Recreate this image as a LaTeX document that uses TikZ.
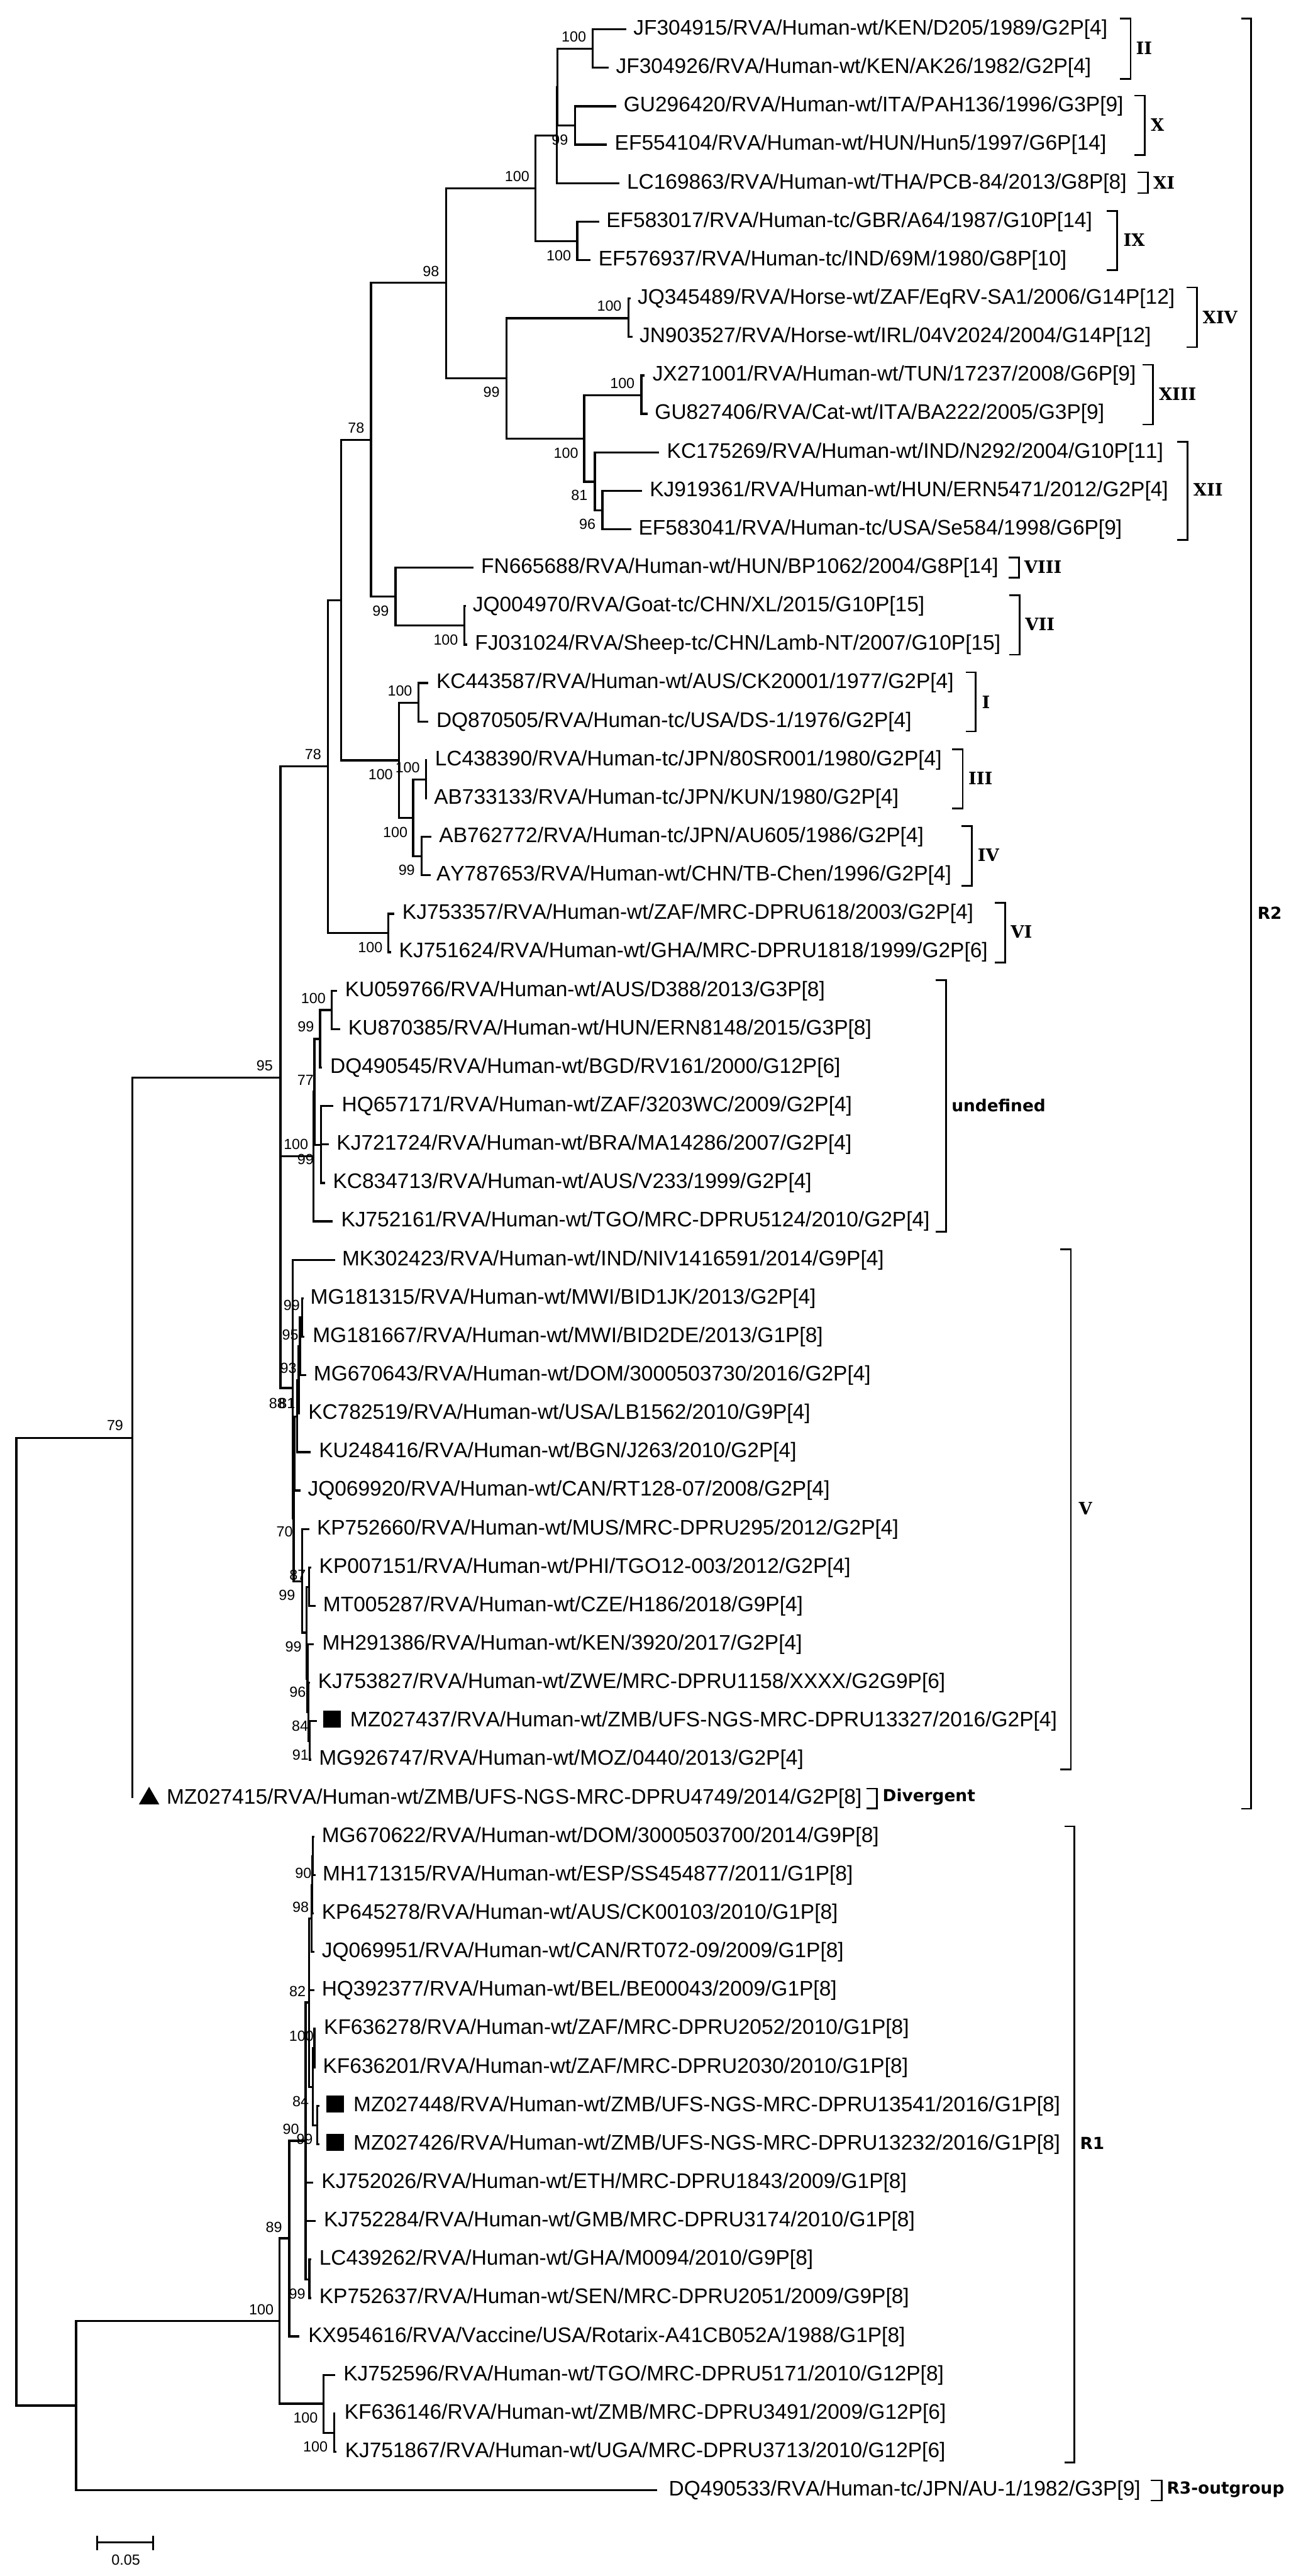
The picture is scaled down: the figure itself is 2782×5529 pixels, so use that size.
\documentclass[tikz,border=0pt]{standalone}
\usepackage{fontspec}
\setmainfont[Kerning=Off]{Liberation Sans}
\newfontfamily\boldsansfont[Kerning=Off]{DejaVu Sans Bold}
\newfontfamily\boldseriffont[Kerning=Off]{DejaVu Serif Bold}
\tikzset{
  branch/.style={line width=1.1pt,black},
  brk/.style={line width=0.9pt,black},
  taxon/.style={anchor=base west,inner sep=0pt,font=\fontsize{11.3pt}{13pt}\selectfont},
  boot/.style={inner sep=0pt,font=\fontsize{7.875pt}{9pt}\selectfont},
  cladesans/.style={anchor=west,inner sep=0pt,font=\boldsansfont\fontsize{8.9pt}{10pt}\selectfont},
  claderoman/.style={anchor=west,inner sep=0pt,font=\boldseriffont\fontsize{9.2pt}{10pt}\selectfont},
}
\newcommand{\taxonbody}[4]{%
  \pgfmathsetmacro{\rowy}{63+82.53*#2}%
  \pgfmathsetmacro{\basey}{\rowy+12}%
  \coordinate (#1) at (#3,\rowy);%
  \node[taxon] (l#1) at (#4,\basey) {\taxtext};}
\newcommand{\tipx}[5]{\def\taxtext{#5}\taxonbody{#1}{#2}{#3}{#4}}
\newcommand{\inode}[3]{\coordinate (#1) at (#2,#3);}
\newcommand{\kidsof}[2]{\foreach \kid in {#2}{\draw[branch] (#1) |- (\kid);}}
\newcommand{\bsval}[3]{\node[boot] at (#1,#2) {#3};}
\newcommand{\cladebrk}[9]{%
  \coordinate (#1a) at (#2,#4);\coordinate (#1b) at (#3,#4);
  \coordinate (#1c) at (#3,#5);\coordinate (#1d) at (#2,#5);
  \draw[brk] (#1a) -- (#1b) -- (#1c) -- (#1d);
  \node[#6] (#1t) at (#7,#8) {#9};}
\begin{document}
\begin{tikzpicture}[x=0.25pt,y=-0.25pt]
\useasboundingbox (0,0) rectangle (2782,5529);
\tipx{t0}{0}{1344}{1359}{JF304915/RVA/Human-wt/KEN/D205/1989/G2P[4]}
\tipx{t1}{1}{1307}{1321.5}{JF304926/RVA/Human-wt/KEN/AK26/1982/G2P[4]}
\tipx{t2}{2}{1323}{1338}{GU296420/RVA/Human-wt/ITA/PAH136/1996/G3P[9]}
\tipx{t3}{3}{1303}{1319}{EF554104/RVA/Human-wt/HUN/Hun5/1997/G6P[14]}
\tipx{t4}{4}{1330}{1345}{LC169863/RVA/Human-wt/THA/PCB-84/2013/G8P[8]}
\tipx{t5}{5}{1286}{1301}{EF583017/RVA/Human-tc/GBR/A64/1987/G10P[14]}
\tipx{t6}{6}{1267}{1284}{EF576937/RVA/Human-tc/IND/69M/1980/G8P[10]}
\tipx{t7}{7}{1354}{1368}{JQ345489/RVA/Horse-wt/ZAF/EqRV-SA1/2006/G14P[12]}
\tipx{t8}{8}{1358}{1372}{JN903527/RVA/Horse-wt/IRL/04V2024/2004/G14P[12]}
\tipx{t9}{9}{1384}{1400}{JX271001/RVA/Human-wt/TUN/17237/2008/G6P[9]}
\tipx{t10}{10}{1390}{1405}{GU827406/RVA/Cat-wt/ITA/BA222/2005/G3P[9]}
\tipx{t11}{11}{1414}{1431}{KC175269/RVA/Human-wt/IND/N292/2004/G10P[11]}
\tipx{t12}{12}{1378}{1394}{KJ919361/RVA/Human-wt/HUN/ERN5471/2012/G2P[4]}
\tipx{t13}{13}{1355}{1370}{EF583041/RVA/Human-tc/USA/Se584/1998/G6P[9]}
\tipx{t14}{14}{1016}{1032}{FN665688/RVA/Human-wt/HUN/BP1062/2004/G8P[14]}
\tipx{t15}{15}{1000}{1014}{JQ004970/RVA/Goat-tc/CHN/XL/2015/G10P[15]}
\tipx{t16}{16}{1003}{1019}{FJ031024/RVA/Sheep-tc/CHN/Lamb-NT/2007/G10P[15]}
\tipx{t17}{17}{919.5}{936}{KC443587/RVA/Human-wt/AUS/CK20001/1977/G2P[4]}
\tipx{t18}{18}{919.5}{936}{DQ870505/RVA/Human-tc/USA/DS-1/1976/G2P[4]}
\tipx{t19}{19}{917}{933}{LC438390/RVA/Human-tc/JPN/80SR001/1980/G2P[4]}
\tipx{t20}{20}{917}{931}{AB733133/RVA/Human-tc/JPN/KUN/1980/G2P[4]}
\tipx{t21}{21}{926.5}{942}{AB762772/RVA/Human-tc/JPN/AU605/1986/G2P[4]}
\tipx{t22}{22}{924}{936}{AY787653/RVA/Human-wt/CHN/TB-Chen/1996/G2P[4]}
\tipx{t23}{23}{847}{863}{KJ753357/RVA/Human-wt/ZAF/MRC-DPRU618/2003/G2P[4]}
\tipx{t24}{24}{839}{856}{KJ751624/RVA/Human-wt/GHA/MRC-DPRU1818/1999/G2P[6]}
\tipx{t25}{25}{723}{740}{KU059766/RVA/Human-wt/AUS/D388/2013/G3P[8]}
\tipx{t26}{26}{730}{747}{KU870385/RVA/Human-wt/HUN/ERN8148/2015/G3P[8]}
\tipx{t27}{27}{691.5}{708}{DQ490545/RVA/Human-wt/BGD/RV161/2000/G12P[6]}
\tipx{t28}{28}{716}{733}{HQ657171/RVA/Human-wt/ZAF/3203WC/2009/G2P[4]}
\tipx{t29}{29}{705.5}{722}{KJ721724/RVA/Human-wt/BRA/MA14286/2007/G2P[4]}
\tipx{t30}{30}{698.5}{714}{KC834713/RVA/Human-wt/AUS/V233/1999/G2P[4]}
\tipx{t31}{31}{714}{731.5}{KJ752161/RVA/Human-wt/TGO/MRC-DPRU5124/2010/G2P[4]}
\tipx{t32}{32}{719.6}{733.6}{MK302423/RVA/Human-wt/IND/NIV1416591/2014/G9P[4]}
\tipx{t33}{33}{652}{665.5}{MG181315/RVA/Human-wt/MWI/BID1JK/2013/G2P[4]}
\tipx{t34}{34}{653}{670.5}{MG181667/RVA/Human-wt/MWI/BID2DE/2013/G1P[8]}
\tipx{t35}{35}{658}{672.6}{MG670643/RVA/Human-wt/DOM/3000503730/2016/G2P[4]}
\tipx{t36}{36}{644}{661}{KC782519/RVA/Human-wt/USA/LB1562/2010/G9P[4]}
\tipx{t37}{37}{667}{684}{KU248416/RVA/Human-wt/BGN/J263/2010/G2P[4]}
\tipx{t38}{38}{645}{660}{JQ069920/RVA/Human-wt/CAN/RT128-07/2008/G2P[4]}
\tipx{t39}{39}{663.5}{679.6}{KP752660/RVA/Human-wt/MUS/MRC-DPRU295/2012/G2P[4]}
\tipx{t40}{40}{668}{684.5}{KP007151/RVA/Human-wt/PHI/TGO12-003/2012/G2P[4]}
\tipx{t41}{41}{677.5}{693}{MT005287/RVA/Human-wt/CZE/H186/2018/G9P[4]}
\tipx{t42}{42}{673}{691}{MH291386/RVA/Human-wt/KEN/3920/2017/G2P[4]}
\tipx{t43}{43}{665}{682}{KJ753827/RVA/Human-wt/ZWE/MRC-DPRU1158/XXXX/G2G9P[6]}
\tipx{t44}{44}{680}{751}{MZ027437/RVA/Human-wt/ZMB/UFS-NGS-MRC-DPRU13327/2016/G2P[4]}
\tipx{t45}{45}{668}{684}{MG926747/RVA/Human-wt/MOZ/0440/2013/G2P[4]}
\tipx{t46}{46}{284}{357}{MZ027415/RVA/Human-wt/ZMB/UFS-NGS-MRC-DPRU4749/2014/G2P[8]}
\tipx{t47}{47}{675}{690}{MG670622/RVA/Human-wt/DOM/3000503700/2014/G9P[8]}
\tipx{t48}{48}{677}{692}{MH171315/RVA/Human-wt/ESP/SS454877/2011/G1P[8]}
\tipx{t49}{49}{673.6}{690}{KP645278/RVA/Human-wt/AUS/CK00103/2010/G1P[8]}
\tipx{t50}{50}{675}{690}{JQ069951/RVA/Human-wt/CAN/RT072-09/2009/G1P[8]}
\tipx{t51}{51}{675}{690}{HQ392377/RVA/Human-wt/BEL/BE00043/2009/G1P[8]}
\tipx{t52}{52}{677}{694.6}{KF636278/RVA/Human-wt/ZAF/MRC-DPRU2052/2010/G1P[8]}
\tipx{t53}{53}{677}{692.5}{KF636201/RVA/Human-wt/ZAF/MRC-DPRU2030/2010/G1P[8]}
\tipx{t54}{54}{685.5}{758}{MZ027448/RVA/Human-wt/ZMB/UFS-NGS-MRC-DPRU13541/2016/G1P[8]}
\tipx{t55}{55}{686}{758}{MZ027426/RVA/Human-wt/ZMB/UFS-NGS-MRC-DPRU13232/2016/G1P[8]}
\tipx{t56}{56}{672}{689.6}{KJ752026/RVA/Human-wt/ETH/MRC-DPRU1843/2009/G1P[8]}
\tipx{t57}{57}{677.6}{694.5}{KJ752284/RVA/Human-wt/GMB/MRC-DPRU3174/2010/G1P[8]}
\tipx{t58}{58}{668.5}{684.7}{LC439262/RVA/Human-wt/GHA/M0094/2010/G9P[8]}
\tipx{t59}{59}{668.5}{684.7}{KP752637/RVA/Human-wt/SEN/MRC-DPRU2051/2009/G9P[8]}
\tipx{t60}{60}{643}{661}{KX954616/RVA/Vaccine/USA/Rotarix-A41CB052A/1988/G1P[8]}
\tipx{t61}{61}{719}{736.6}{KJ752596/RVA/Human-wt/TGO/MRC-DPRU5171/2010/G12P[8]}
\tipx{t62}{62}{720}{738.7}{KF636146/RVA/Human-wt/ZMB/MRC-DPRU3491/2009/G12P[6]}
\tipx{t63}{63}{722.5}{740}{KJ751867/RVA/Human-wt/UGA/MRC-DPRU3713/2010/G12P[6]}
\tipx{t64}{64}{1410}{1435}{DQ490533/RVA/Human-tc/JPN/AU-1/1982/G3P[9]}
% internal nodes
\inode{a1}{1272}{104.5}\inode{a2}{1234.5}{269.5}\inode{a3}{1197}{187}\inode{a4}{1195.5}{290.5}
\inode{a5}{1239}{518}\inode{a6}{1149}{404}\inode{b1}{1349}{683}\inode{b2}{1377}{848}
\inode{b3}{1293}{1095}\inode{b4}{1277}{1034}\inode{b5}{1254}{941}\inode{b6}{1087}{812}
\inode{a7}{958}{607}\inode{c1}{997}{1342.5}\inode{c2}{849}{1280.5}\inode{a8}{796.5}{944}
\inode{d1}{898}{1508}\inode{d2}{914.6}{1673}\inode{d3}{905.5}{1838}\inode{d4}{887}{1755}
\inode{d5}{856}{1632}\inode{a9}{732}{1288}\inode{e0}{834}{2002}\inode{a10}{704}{1645}
\inode{f1}{712}{2168}\inode{f2}{687}{2230}\inode{g0}{689.4}{2457}\inode{f3}{675}{2343}\inode{f4}{673}{2482}
\inode{v1}{649}{2827}\inode{v2}{644}{2889}\inode{v3}{641}{2962}\inode{v4}{637.5}{3040}\inode{v5}{632}{3119}
\inode{w4}{664.5}{3737}\inode{w3}{662}{3675}\inode{w2}{660}{3603}\inode{w0}{663}{3406}\inode{w1}{658.5}{3504}
\inode{w5}{648.7}{3394}\inode{v6}{630.5}{3259}\inode{v7}{628}{2979}\inode{h0}{602}{2313}\inode{i0}{284}{3086}
\inode{r1}{672}{3984}\inode{r2}{670}{4046}\inode{r3}{668.5}{4118}\inode{r4}{675}{4396}\inode{r5}{680.6}{4562}
\inode{r6}{672}{4479}\inode{r7}{663}{4298}\inode{r8}{664}{4892}\inode{r9}{656}{4595}\inode{r10}{621}{4804}
\inode{s1}{717}{5222}\inode{s2}{694.5}{5159}\inode{r11}{600}{4982}\inode{j0}{163.5}{5163}\inode{root}{35}{4124.5}
% branches
\kidsof{a1}{t0,t1}\kidsof{a2}{t2,t3}\kidsof{a3}{a1,a2}\kidsof{a4}{a3,t4}\kidsof{a5}{t5,t6}\kidsof{a6}{a4,a5}
\kidsof{b1}{t7,t8}\kidsof{b2}{t9,t10}\kidsof{b3}{t12,t13}\kidsof{b4}{t11,b3}\kidsof{b5}{b2,b4}\kidsof{b6}{b1,b5}
\kidsof{a7}{a6,b6}\kidsof{c1}{t15,t16}\kidsof{c2}{t14,c1}\kidsof{a8}{a7,c2}
\kidsof{d1}{t17,t18}\kidsof{d2}{t19,t20}\kidsof{d3}{t21,t22}\kidsof{d4}{d2,d3}\kidsof{d5}{d1,d4}\kidsof{a9}{a8,d5}
\kidsof{e0}{t23,t24}\kidsof{a10}{a9,e0}
\kidsof{f1}{t25,t26}\kidsof{f2}{f1,t27}\kidsof{g0}{t28,t29,t30}\kidsof{f3}{f2,g0}\kidsof{f4}{f3,t31}
\kidsof{v1}{t33,t34}\kidsof{v2}{v1,t35}\kidsof{v3}{v2,t36}\kidsof{v4}{v3,t37}\kidsof{v5}{v4,t38}
\kidsof{w4}{t44,t45}\kidsof{w3}{t43,w4}\kidsof{w2}{t42,w3}\kidsof{w0}{t40,t41}\kidsof{w1}{w0,w2}\kidsof{w5}{t39,w1}
\kidsof{v6}{v5,w5}\kidsof{v7}{t32,v6}\kidsof{h0}{a10,f4,v7}\kidsof{i0}{h0,t46}
\kidsof{r1}{t47,t48}\kidsof{r2}{r1,t49}\kidsof{r3}{r2,t50}\kidsof{r4}{t52,t53}\kidsof{r5}{t54,t55}\kidsof{r6}{r4,r5}
\kidsof{r7}{r3,t51,r6}\kidsof{r8}{t58,t59}\kidsof{r9}{r7,t56,t57,r8}\kidsof{r10}{r9,t60}
\kidsof{s1}{t62,t63}\kidsof{s2}{t61,s1}\kidsof{r11}{r10,s2}\kidsof{j0}{r11,t64}\kidsof{root}{i0,j0}
% bootstrap values
\bsval{1232}{79}{100}\bsval{1202}{300}{99}\bsval{1110}{379}{100}\bsval{1199.5}{548}{100}\bsval{925}{583}{98}
\bsval{1308}{657}{100}\bsval{1336}{822}{100}\bsval{1055}{842}{99}\bsval{764.5}{919}{78}\bsval{1215}{972}{100}
\bsval{1243.6}{1063.5}{81}\bsval{1261}{1125.5}{96}\bsval{817}{1311}{99}\bsval{957}{1373.5}{100}
\bsval{858.5}{1482.6}{100}\bsval{672}{1619}{78}\bsval{817}{1662}{100}\bsval{875}{1647}{100}
\bsval{848.6}{1786}{100}\bsval{873}{1868}{99}\bsval{795}{2033}{100}\bsval{672.6}{2143}{100}\bsval{656.4}{2204}{99}
\bsval{568}{2287}{95}\bsval{655.7}{2318}{77}\bsval{635.4}{2456.6}{100}\bsval{655.7}{2488}{99}
\bsval{626}{2802}{99}\bsval{623}{2865}{95}\bsval{619}{2936}{93}\bsval{595}{3012}{88}\bsval{616}{3012}{81}
\bsval{611}{3288}{70}\bsval{639}{3380}{87}\bsval{616}{3424}{99}\bsval{630}{3535}{99}\bsval{639}{3632}{96}
\bsval{644}{3705}{84}\bsval{645}{3767}{91}\bsval{247}{3059}{79}
\bsval{651}{4021}{90}\bsval{645.5}{4093}{98}\bsval{638.5}{4274}{82}\bsval{647}{4370}{100}\bsval{645.5}{4510}{84}
\bsval{624.5}{4570}{90}\bsval{654}{4591}{99}\bsval{588}{4780}{89}\bsval{638}{4923}{99}\bsval{561}{4957}{100}
\bsval{656}{5189}{100}\bsval{677}{5251}{100}
% markers
\fill (694,3671) rectangle (732,3708.5);
\fill (700,4497) rectangle (738,4534);
\fill (700,4580) rectangle (738,4616);
\fill (298,3873) -- (342,3873) -- (320,3835) -- cycle;
% clade brackets
\cladebrk{cII}{2404}{2427}{40}{169}{claderoman}{2438}{103}{II}
\cladebrk{cX}{2435}{2457}{205}{333}{claderoman}{2469.5}{268}{X}
\cladebrk{cXI}{2442}{2464}{370}{414.5}{claderoman}{2475}{392}{XI}
\cladebrk{cIX}{2376}{2398}{453}{580}{claderoman}{2411}{515}{IX}
\cladebrk{cXIV}{2547}{2569}{617}{745}{claderoman}{2581}{680.5}{XIV}
\cladebrk{cXIII}{2452}{2475}{783}{911}{claderoman}{2487}{846}{XIII}
\cladebrk{cXII}{2527}{2549.6}{948}{1158.7}{claderoman}{2561}{1051}{XII}
\cladebrk{cVIII}{2164.5}{2187}{1197}{1240}{claderoman}{2198}{1217}{VIII}
\cladebrk{cVII}{2166.5}{2188.6}{1278}{1405}{claderoman}{2200}{1339.5}{VII}
\cladebrk{cI}{2072.7}{2094.7}{1443}{1570}{claderoman}{2107}{1507}{I}
\cladebrk{cIII}{2043.7}{2066.5}{1608}{1735}{claderoman}{2078}{1671}{III}
\cladebrk{cIV}{2063.7}{2086.5}{1773}{1901}{claderoman}{2098}{1835}{IV}
\cladebrk{cVI}{2136}{2158}{1938}{2066}{claderoman}{2169}{2000}{VI}
\cladebrk{cund}{2008}{2030.6}{2104}{2644}{cladesans}{2042}{2372}{undefined}
\cladebrk{cV}{2276}{2299}{2681}{3797.6}{claderoman}{2315}{3237}{V}
\cladebrk{cR2}{2664}{2685.5}{40}{3882}{cladesans}{2698.6}{1959}{R2}
\cladebrk{cDiv}{1860}{1882}{3839}{3881}{cladesans}{1894}{3857}{Divergent}
\cladebrk{cR1}{2285}{2306}{3920}{5285}{cladesans}{2317.6}{4600}{R1}
\cladebrk{cR3}{2470}{2493.5}{5323.6}{5367}{cladesans}{2504}{5343}{R3-outgroup}
% scale bar
\coordinate (sl) at (209,5457);\coordinate (sr) at (329,5457);
\coordinate (slt) at (209,5442.6);\coordinate (slb) at (209,5473);
\coordinate (srt) at (329,5442.6);\coordinate (srb) at (329,5473);
\draw[brk] (sl) -- (sr);\draw[brk] (slt) -- (slb);\draw[brk] (srt) -- (srb);
\node[boot] (sc) at (270,5494) {0.05};
\end{tikzpicture}
\end{document}
